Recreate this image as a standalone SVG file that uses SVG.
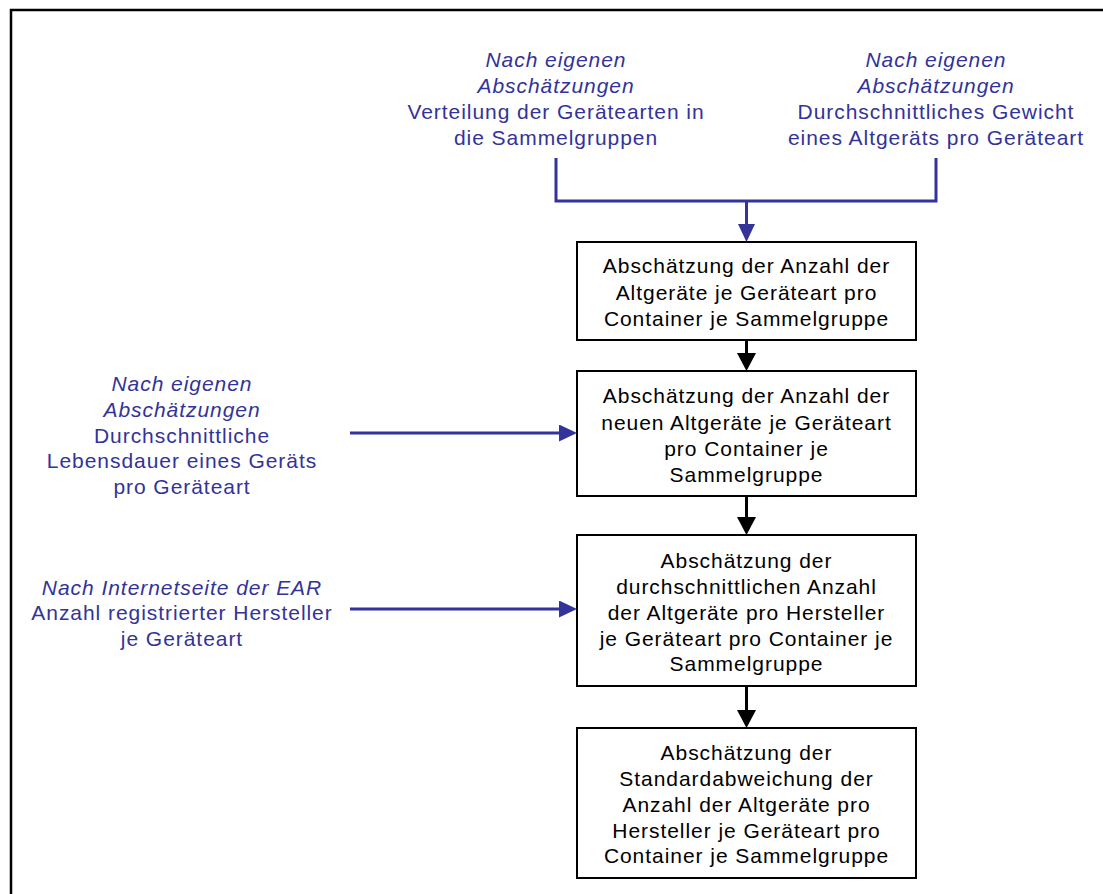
<svg xmlns="http://www.w3.org/2000/svg" width="1103" height="894" viewBox="0 0 1103 894">
<defs>
<style>
.frame{fill:none;stroke:#000;stroke-width:2.5}
.box{fill:#fff;stroke:#000;stroke-width:2}
.t{font-family:"Liberation Sans",Arial,sans-serif;font-size:21px;letter-spacing:0.95px;text-anchor:middle}
.bt{fill:#000}
.src{fill:#333399}
.src .i{font-style:italic}
.cb{fill:none;stroke:#333399;stroke-width:3}
.ck{fill:none;stroke:#000;stroke-width:3}
</style>
<marker id="ahB" markerUnits="userSpaceOnUse" markerWidth="18" markerHeight="17" refX="8" refY="8.5" orient="auto">
<path d="M0,0 L18,8.5 L0,17 z" fill="#333399"/>
</marker>
<marker id="ahK" markerUnits="userSpaceOnUse" markerWidth="18" markerHeight="19" refX="8" refY="9.5" orient="auto">
<path d="M0,0 L18,9.5 L0,19 z" fill="#000"/>
</marker>
</defs>
<rect width="1103" height="894" fill="#fff"/>
<rect class="frame" x="11" y="10" width="1200" height="1000"/>

<g id="src1" class="t src">
<text x="556" y="67" class="i">Nach eigenen</text>
<text x="556" y="93" class="i">Abschätzungen</text>
<text x="556" y="119">Verteilung der Gerätearten in</text>
<text x="556" y="145">die Sammelgruppen</text>
</g>
<g id="src2" class="t src">
<text x="936" y="67" class="i">Nach eigenen</text>
<text x="936" y="93" class="i">Abschätzungen</text>
<text x="936" y="119">Durchschnittliches Gewicht</text>
<text x="936" y="145">eines Altgeräts pro Geräteart</text>
</g>
<g id="src3" class="t src">
<text x="182" y="391" class="i">Nach eigenen</text>
<text x="182" y="417" class="i">Abschätzungen</text>
<text x="182" y="443">Durchschnittliche</text>
<text x="182" y="468">Lebensdauer eines Geräts</text>
<text x="182" y="494">pro Geräteart</text>
</g>
<g id="src4" class="t src">
<text x="182" y="595" class="i">Nach Internetseite der EAR</text>
<text x="182" y="620">Anzahl registrierter Hersteller</text>
<text x="182" y="646">je Geräteart</text>
</g>

<g id="box1">
<rect class="box" x="577" y="242" width="339" height="98"/>
<g class="t bt">
<text x="746.5" y="273">Abschätzung der Anzahl der</text>
<text x="746.5" y="299.5">Altgeräte je Geräteart pro</text>
<text x="746.5" y="326">Container je Sammelgruppe</text>
</g>
</g>
<g id="box2">
<rect class="box" x="577" y="371" width="339" height="125"/>
<g class="t bt">
<text x="746.5" y="403">Abschätzung der Anzahl der</text>
<text x="746.5" y="429.5">neuen Altgeräte je Geräteart</text>
<text x="746.5" y="456">pro Container je</text>
<text x="746.5" y="482">Sammelgruppe</text>
</g>
</g>
<g id="box3">
<rect class="box" x="577" y="535" width="339" height="151"/>
<g class="t bt">
<text x="746.5" y="568">Abschätzung der</text>
<text x="746.5" y="594">durchschnittlichen Anzahl</text>
<text x="746.5" y="620">der Altgeräte pro Hersteller</text>
<text x="746.5" y="646">je Geräteart pro Container je</text>
<text x="746.5" y="671">Sammelgruppe</text>
</g>
</g>
<g id="box4">
<rect class="box" x="577" y="728" width="339" height="150"/>
<g class="t bt">
<text x="746.5" y="760">Abschätzung der</text>
<text x="746.5" y="786">Standardabweichung der</text>
<text x="746.5" y="812">Anzahl der Altgeräte pro</text>
<text x="746.5" y="838">Hersteller je Geräteart pro</text>
<text x="746.5" y="863">Container je Sammelgruppe</text>
</g>
</g>

<g id="connectors">
<path class="cb" d="M556,158 V201 H936 V158"/>
<path class="cb" d="M746.5,201 V232" marker-end="url(#ahB)"/>
<path class="cb" d="M350,433 H567" marker-end="url(#ahB)"/>
<path class="cb" d="M350,609 H567" marker-end="url(#ahB)"/>
<path class="ck" d="M746.5,340 V361" marker-end="url(#ahK)"/>
<path class="ck" d="M746.5,496 V525" marker-end="url(#ahK)"/>
<path class="ck" d="M746.5,686 V718" marker-end="url(#ahK)"/>
</g>
</svg>
